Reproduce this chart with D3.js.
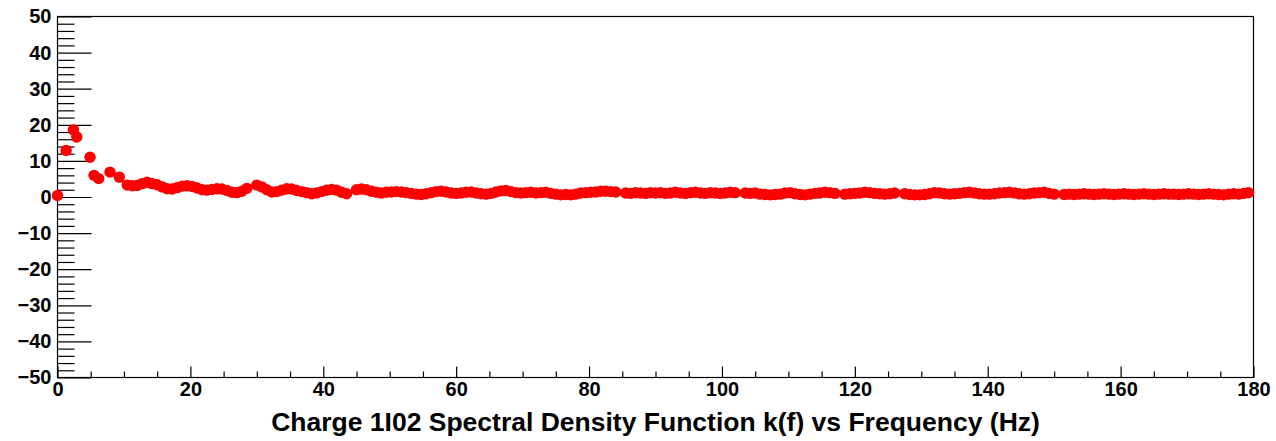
<!DOCTYPE html>
<html>
<head>
<meta charset="utf-8">
<script src="https://cdn.jsdelivr.net/npm/d3@7"></script>
<style>
  html, body { margin: 0; padding: 0; background: #fff; }
  svg { display: block; }
  text { font-family: "Liberation Sans", Arial, sans-serif; font-weight: bold; fill: #000; }
</style>
</head>
<body>
<svg id="chart" width="1276" height="441"></svg>
<script>
// ---- data ----
const freq = [
  0, 1.3, 2.4, 2.9, 4.9, 5.5, 6.2, 7.9, 9.3,
  10.5, 11.25, 12, 12.75, 13.5, 14.25, 15, 15.75, 16.5, 17.25, 18, 18.75, 19.5,
  20.25, 21, 21.75, 22.5, 23.25, 24, 24.75, 25.5, 26.25, 27, 27.75, 28.5,
  30, 30.75, 31.5, 32.25, 33, 33.75, 34.5, 35.25, 36, 36.75, 37.5, 38.25, 39, 39.75,
  40.5, 41.25, 42, 42.75, 43.5, 45, 45.75, 46.5, 47.25, 48, 48.75, 49.5,
  50.25, 51, 51.75, 52.5, 53.25, 54, 54.75, 55.5, 56.25, 57, 57.75, 58.5, 59.25,
  60, 60.75, 61.5, 62.25, 63, 63.75, 64.5, 65.25, 66, 66.75, 67.5, 68.25, 69, 69.75,
  70.5, 71.25, 72, 72.75, 73.5, 74.25, 75, 75.75, 76.5, 77.25, 78, 78.75, 79.5,
  80.25, 81, 81.75, 82.5, 83.25, 84, 85.5, 86.25, 87, 87.75, 88.5, 89.25,
  90, 90.75, 91.5, 92.25, 93, 93.75, 94.5, 95.25, 96, 96.75, 97.5, 98.25, 99, 99.75,
  100.5, 101.25, 102, 103.5, 104.25, 105, 105.75, 106.5, 107.25, 108, 108.75, 109.5,
  110.25, 111, 111.75, 112.5, 113.25, 114, 114.75, 115.5, 116.25, 117, 118.5, 119.25,
  120, 120.75, 121.5, 122.25, 123, 123.75, 124.5, 125.25, 126, 127.5, 128.25, 129, 129.75,
  130.5, 131.25, 132, 132.75, 133.5, 134.25, 135, 135.75, 136.5, 137.25, 138, 138.75, 139.5,
  140.25, 141, 141.75, 142.5, 143.25, 144, 144.75, 145.5, 146.25, 147, 147.75, 148.5, 149.25,
  150, 151.5, 152.25, 153, 153.75, 154.5, 155.25, 156, 156.75, 157.5, 158.25, 159, 159.75,
  160.5, 161.25, 162, 162.75, 163.5, 164.25, 165, 165.75, 166.5, 167.25, 168, 168.75, 169.5,
  170.25, 171, 171.75, 172.5, 173.25, 174, 174.75, 175.5, 176.25, 177, 177.75, 178.5, 179.25
];
const kf = [
  0.4, 12.9, 18.6, 16.6, 11.0, 6.0, 5.1, 6.9, 5.5,
  3.3, 3.1, 3.2, 3.7, 4.1, 3.7, 3.4, 2.8, 2.3, 2.2, 2.6, 3.0, 3.1,
  2.9, 2.5, 2.0, 1.9, 2.1, 2.3, 2.2, 1.8, 1.3, 1.2, 1.6, 2.4,
  3.3, 2.8, 2.0, 1.4, 1.5, 1.9, 2.3, 2.2, 1.8, 1.5, 1.2, 0.9, 1.1, 1.5,
  1.9, 2.1, 1.9, 1.3, 0.9, 2.0, 2.2, 2.0, 1.6, 1.3, 1.1, 1.3,
  1.4, 1.5, 1.4, 1.2, 1.0, 0.8, 0.7, 0.9, 1.2, 1.5, 1.6, 1.4, 1.1,
  1.0, 1.1, 1.3, 1.4, 1.1, 0.9, 0.8, 1.0, 1.4, 1.7, 1.8, 1.5, 1.2, 1.1,
  1.2, 1.3, 1.1, 1.2, 1.3, 1.0, 0.8, 0.6, 0.7, 0.6, 0.8, 1.1, 1.2,
  1.3, 1.4, 1.6, 1.6, 1.5, 1.4, 1.1, 1.0, 1.2, 1.1, 1.0, 1.2,
  1.1, 1.2, 1.0, 1.1, 1.3, 1.1, 1.0, 1.2, 1.3, 1.1, 1.0, 1.2, 1.1, 1.0,
  1.1, 1.3, 1.2, 1.1, 1.0, 1.1, 0.8, 0.7, 0.6, 0.7, 0.8, 1.1,
  1.2, 0.9, 0.7, 0.6, 0.8, 1.0, 1.1, 1.3, 1.2, 1.0, 0.8, 0.9,
  1.0, 1.1, 1.3, 1.2, 1.0, 0.9, 0.8, 0.9, 1.1, 0.9, 0.7, 0.6, 0.6,
  0.7, 0.9, 1.2, 1.1, 0.9, 0.8, 0.9, 1.0, 1.2, 1.3, 1.1, 0.9, 0.8,
  0.8, 0.9, 1.1, 1.2, 1.3, 1.1, 0.9, 0.8, 0.9, 1.1, 1.2, 1.3, 1.0,
  0.8, 0.7, 0.8, 0.7, 0.8, 0.9, 0.8, 0.7, 0.8, 0.9, 0.8, 0.7, 0.8,
  0.9, 0.8, 0.7, 0.8, 0.9, 0.8, 0.7, 0.8, 0.9, 0.8, 0.8, 0.7, 0.8,
  0.9, 0.8, 0.7, 0.8, 0.9, 0.8, 0.7, 0.6, 0.8, 0.9, 0.8, 1.0, 1.2
];
const xTicks = [0, 20, 40, 60, 80, 100, 120, 140, 160, 180];
const xMinorTicks = [5, 10, 15, 25, 30, 35, 45, 50, 55, 65, 70, 75, 85, 90, 95, 105, 110, 115, 125, 130, 135, 145, 150, 155, 165, 170, 175];
const yTicks = [-50, -40, -30, -20, -10, 0, 10, 20, 30, 40, 50];
const yMinorTicks = [-48, -46, -44, -42, -38, -36, -34, -32, -28, -26, -24, -22, -18, -16, -14, -12, -8, -6, -4, -2,
                     2, 4, 6, 8, 12, 14, 16, 18, 22, 24, 26, 28, 32, 34, 36, 38, 42, 44, 46, 48];
const xTitle = "Charge 1I02 Spectral Density Function k(f) vs Frequency (Hz)";

// ---- layout ----
const L = 57.5, R = 1253.5, T = 16.5, B = 377.5;
const svg = d3.select("#chart");
const x = d3.scaleLinear().domain([0, 180]).range([L, R]);
const y = d3.scaleLinear().domain([-50, 50]).range([B, T]);

// frame
svg.append("rect").attr("x", L).attr("y", T).attr("width", R - L).attr("height", B - T)
  .attr("fill", "none").attr("stroke", "#000").attr("stroke-width", 1.2);

// y axis minor + major
const gy = svg.append("g").attr("transform", `translate(${L},0)`);
gy.call(d3.axisLeft(y).tickValues(yMinorTicks).tickSize(-17).tickFormat(""));
gy.append("g").call(d3.axisLeft(y).tickValues(yTicks).tickSize(-34).tickPadding(6).tickFormat(d3.format("d")));
gy.selectAll(".domain").remove();
gy.selectAll("line").attr("stroke", "#000").attr("stroke-width", 1.2);
gy.selectAll("text").style("font-size", "20px").style("font-family", "Liberation Sans, Arial, sans-serif")
  .style("font-weight", "bold").attr("fill", "#000");

// x axis minor + major
const gx = svg.append("g").attr("transform", `translate(0,${B})`);
gx.call(d3.axisBottom(x).tickValues(xMinorTicks).tickSize(-6).tickFormat(""));
gx.append("g").call(d3.axisBottom(x).tickValues(xTicks).tickSize(-11).tickPadding(4).tickFormat(d3.format("d")));
gx.selectAll(".domain").remove();
gx.selectAll("line").attr("stroke", "#000").attr("stroke-width", 1.2);
gx.selectAll("text").style("font-size", "20px").style("font-family", "Liberation Sans, Arial, sans-serif")
  .style("font-weight", "bold").attr("fill", "#000");

// points
svg.append("g").selectAll("circle").data(freq.map((f, i) => [f, kf[i]])).join("circle")
  .attr("cx", d => x(d[0])).attr("cy", d => y(d[1])).attr("r", 5.7)
  .attr("fill", "#ff0000");

// x title
svg.append("text").attr("x", (L + R) / 2).attr("y", 431).attr("text-anchor", "middle")
  .style("font-size", "26.5px").text(xTitle);
</script>
</body>
</html>
